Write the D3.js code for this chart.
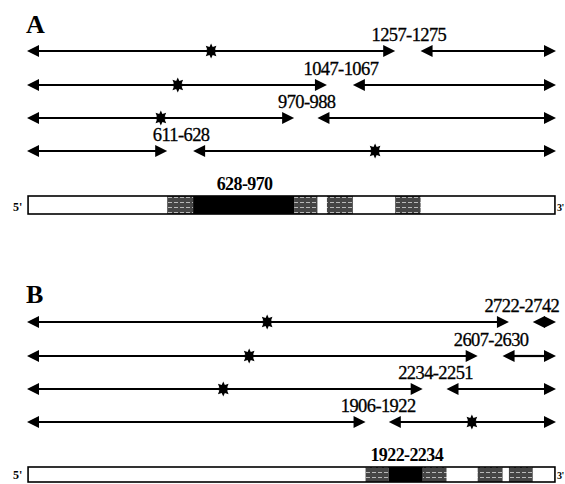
<!DOCTYPE html>
<html>
<head>
<meta charset="utf-8">
<script src="https://cdn.jsdelivr.net/npm/d3@7"></script>
<style>
  html, body { margin: 0; padding: 0; background: #fff; }
  svg { display: block; }
  text { font-family: "Liberation Serif", "Times New Roman", serif; fill: #000; }
</style>
</head>
<body>
<svg id="chart" width="565" height="484"></svg>
<script>
// Positions along the transcript in schematic units (0 = 5' end, 100 = 3' end).
// Panel A primer pairs, top row first.
const primerLabelsA = ["1257-1275", "1047-1067", "970-988", "611-628"];
const primerStartA  = [69.6, 56.7, 50.5, 26.5];
const primerEndA    = [74.4, 61.6, 54.9, 31.4];
const mutationA     = [34.8, 28.5, 25.3, 65.8];
const regionLabelA  = "628-970";

// Panel B primer pairs, top row first.
const primerLabelsB = ["2722-2742", "2607-2630", "2234-2251", "1906-1922"];
const primerStartB  = [91.1, 85.2, 74.8, 64.0];
const primerEndB    = [95.6, 89.9, 79.3, 68.4];
const mutationB     = [45.4, 42.0, 37.1, 84.1];
const regionLabelB  = "1922-2234";

const svg = d3.select("#chart");

// striped fill for primer sites on the transcript bar
const defs = svg.append("defs");
const pat = defs.append("pattern")
  .attr("id", "hatch").attr("patternUnits", "userSpaceOnUse")
  .attr("width", 6).attr("height", 5);
pat.append("rect").attr("width", 6).attr("height", 5).attr("fill", "#454545");
pat.append("rect").attr("x", 0).attr("y", 2).attr("width", 4).attr("height", 1).attr("fill", "#b8b8b8");

const x = d3.scaleLinear().domain([0, 100]).range([27, 556]);

const headLen = 12, headHalf = 6;

function arrowSegment(g, a, b, y) {
  const x0 = x(a), x1 = x(b);
  g.append("line")
    .attr("x1", x0 + headLen - 1).attr("x2", x1 - headLen + 1)
    .attr("y1", y).attr("y2", y)
    .attr("stroke", "#000").attr("stroke-width", 2.2);
  g.append("path")
    .attr("d", `M${x0},${y} L${x0 + headLen},${y - headHalf} L${x0 + headLen},${y + headHalf} Z`)
    .attr("fill", "#000");
  g.append("path")
    .attr("d", `M${x1},${y} L${x1 - headLen},${y - headHalf} L${x1 - headLen},${y + headHalf} Z`)
    .attr("fill", "#000");
}

function star(g, cx, cy) {
  const pts = [];
  const n = 8, ro = 7.5, ri = 4.2;
  for (let i = 0; i < n * 2; i++) {
    const r = i % 2 === 0 ? ro : ri;
    const ang = Math.PI * i / n - Math.PI / 2;
    pts.push([cx + r * Math.cos(ang), cy + r * Math.sin(ang)]);
  }
  g.append("path").attr("d", d3.line()(pts) + "Z").attr("fill", "#000");
}

function panel(opts) {
  const g = svg.append("g");
  g.append("text")
    .attr("x", 26).attr("y", opts.letterY)
    .attr("font-size", 26).attr("font-weight", "bold")
    .text(opts.letter);

  opts.labels.forEach((lab, i) => {
    const y = opts.rows[i];
    arrowSegment(g, 0, opts.starts[i], y);
    arrowSegment(g, opts.ends[i], 100, y);
    star(g, x(opts.mutations[i]), y);
    g.append("text")
      .attr("x", (x(opts.starts[i]) + x(opts.ends[i])) / 2 + 1)
      .attr("y", y - 10)
      .attr("text-anchor", "middle")
      .attr("font-size", 18.5)
      .attr("letter-spacing", -0.6)
      .attr("stroke", "#000").attr("stroke-width", 0.3)
      .text(lab);
  });

  // transcript bar
  const bt = opts.barTop, bh = opts.barH;
  g.append("rect")
    .attr("x", x(0.2)).attr("y", bt)
    .attr("width", x(99.8) - x(0.2)).attr("height", bh)
    .attr("fill", "#fff");
  opts.starts.forEach((s, i) => {
    g.append("rect")
      .attr("x", x(s)).attr("y", bt)
      .attr("width", x(opts.ends[i]) - x(s)).attr("height", bh)
      .attr("fill", "url(#hatch)");
  });
  // amplified region between the two innermost primer sites
  const rs = opts.region[0], re = opts.region[1];
  g.append("rect")
    .attr("x", x(rs)).attr("y", bt)
    .attr("width", x(re) - x(rs)).attr("height", bh)
    .attr("fill", "#000");
  g.append("rect")
    .attr("x", x(0.2)).attr("y", bt)
    .attr("width", x(99.8) - x(0.2)).attr("height", bh)
    .attr("fill", "none").attr("stroke", "#000").attr("stroke-width", 1.6);
  g.append("text")
    .attr("x", (x(rs) + x(re)) / 2 + 1).attr("y", bt - 6)
    .attr("text-anchor", "middle")
    .attr("font-size", 18).attr("font-weight", "bold")
    .attr("letter-spacing", -0.6)
    .text(opts.regionLabel);
  g.append("text")
    .attr("x", 13).attr("y", bt + bh - 3)
    .attr("font-size", 12).attr("font-weight", "bold")
    .text("5'");
  g.append("text")
    .attr("x", 557).attr("y", bt + bh - 3)
    .attr("font-size", 10).attr("font-weight", "bold")
    .attr("letter-spacing", -0.5)
    .text("3'");
}

panel({
  letter: "A", letterY: 33,
  rows: [51, 85, 118, 151],
  labels: primerLabelsA, starts: primerStartA, ends: primerEndA,
  mutations: mutationA,
  region: [primerEndA[3], primerStartA[2]], regionLabel: regionLabelA,
  barTop: 196, barH: 18
});

panel({
  letter: "B", letterY: 303,
  rows: [322, 356, 389, 422],
  labels: primerLabelsB, starts: primerStartB, ends: primerEndB,
  mutations: mutationB,
  region: [primerEndB[3], primerStartB[2]], regionLabel: regionLabelB,
  barTop: 467, barH: 15
});
</script>
</body>
</html>
